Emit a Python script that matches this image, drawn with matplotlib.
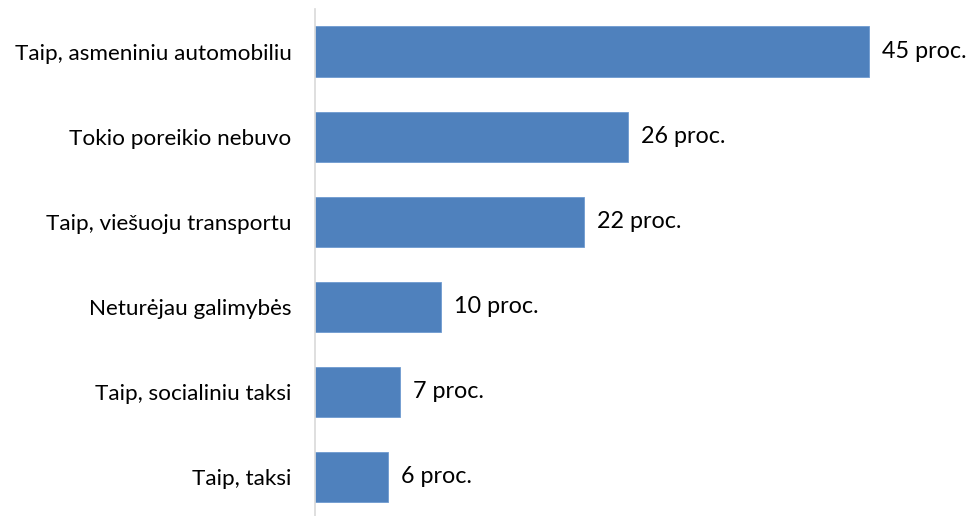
import matplotlib
matplotlib.use("Agg")
import matplotlib.pyplot as plt

# Data (top to bottom)
categories = [
    "Taip, asmeniniu automobiliu",
    "Tokio poreikio nebuvo",
    "Taip, viešuoju transportu",
    "Neturėjau galimybės",
    "Taip, socialiniu taksi",
    "Taip, taksi",
]
# bar lengths as measured; labels show rounded percentages
values = [45.0, 25.4, 21.85, 10.2, 6.9, 5.93]
value_labels = ["45 proc.", "26 proc.", "22 proc.", "10 proc.", "7 proc.", "6 proc."]

plt.rcParams["font.family"] = ["Lato", "DejaVu Sans"]

fig = plt.figure(figsize=(9.8, 5.16), dpi=100)
ax = fig.add_axes([315 / 980, 0.0, 615.6 / 980, 507 / 516])

# Plot bars in reverse so the first category is on top
pos = list(range(len(categories)))[::-1]
bars = ax.barh(pos, values, height=0.59, color="#4F81BD", edgecolor="#6F9AD0", linewidth=0.6)

for rect, lab in zip(bars, value_labels):
    ax.annotate(lab, (rect.get_width(), rect.get_y() + rect.get_height() / 2),
                xytext=(13, 0), textcoords="offset pixels",
                va="center", ha="left", fontsize=16.8, color="#000000")

ax.set_xlim(0, 50)
ax.set_ylim(-0.46, 5.5)
ax.set_yticks(pos)
ax.set_yticklabels(categories, fontsize=16.2)
ax.tick_params(axis="y", length=0, pad=17)
ax.set_xticks([])

for s in ["top", "right", "bottom"]:
    ax.spines[s].set_visible(False)
ax.spines["left"].set_color("#D9D9D9")
ax.spines["left"].set_linewidth(1.2)

fig.savefig("out.png", dpi=100)
